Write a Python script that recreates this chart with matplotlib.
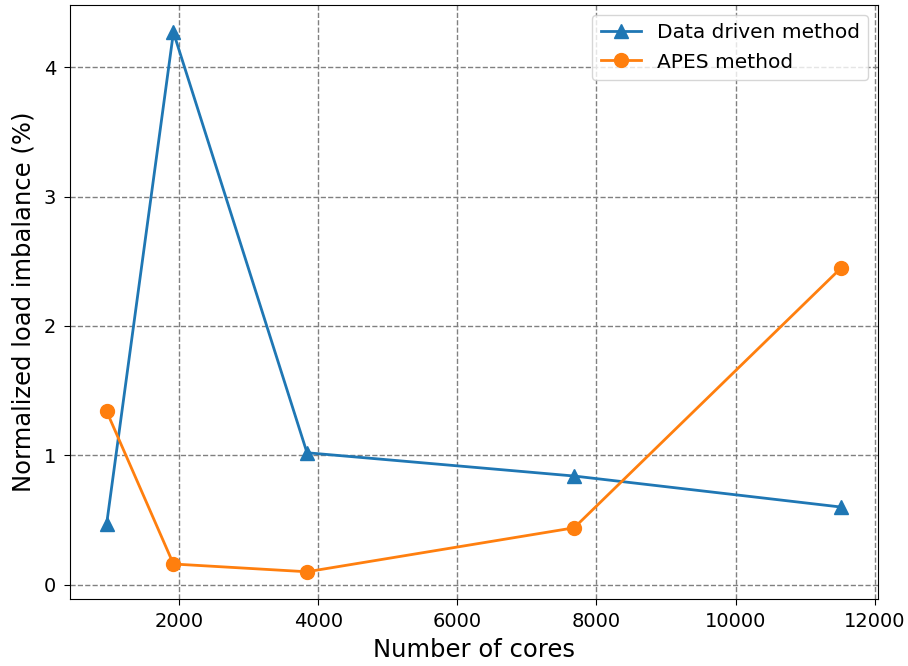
import matplotlib
matplotlib.use("Agg")
import matplotlib.pyplot as plt

# core counts and load imbalance for the two partitioning methods
cores = [960, 1920, 3840, 7680, 11520]
data_driven = [0.47, 4.27, 1.02, 0.84, 0.60]
apes = [1.34, 0.16, 0.10, 0.44, 2.45]

fig = plt.figure(figsize=(9.08, 6.66), dpi=100)
ax = fig.add_axes([0.077, 0.101, 0.890, 0.891])

ax.plot(cores, data_driven, marker='^', markersize=10, linewidth=2, label='Data driven method')
ax.plot(cores, apes, marker='o', markersize=10, linewidth=2, label='APES method')

ax.grid(True, color='gray', linestyle='--', linewidth=1)
ax.set_axisbelow(True)
ax.set_xlabel('Number of cores', fontsize=17.5, labelpad=5)
ax.set_ylabel('Normalized load imbalance (%)', fontsize=17.5, labelpad=6)
ax.tick_params(labelsize=14, length=4.3, pad=5.5)
ax.legend(fontsize=14.5, loc='upper right')

plt.savefig('out.png', dpi=100)
